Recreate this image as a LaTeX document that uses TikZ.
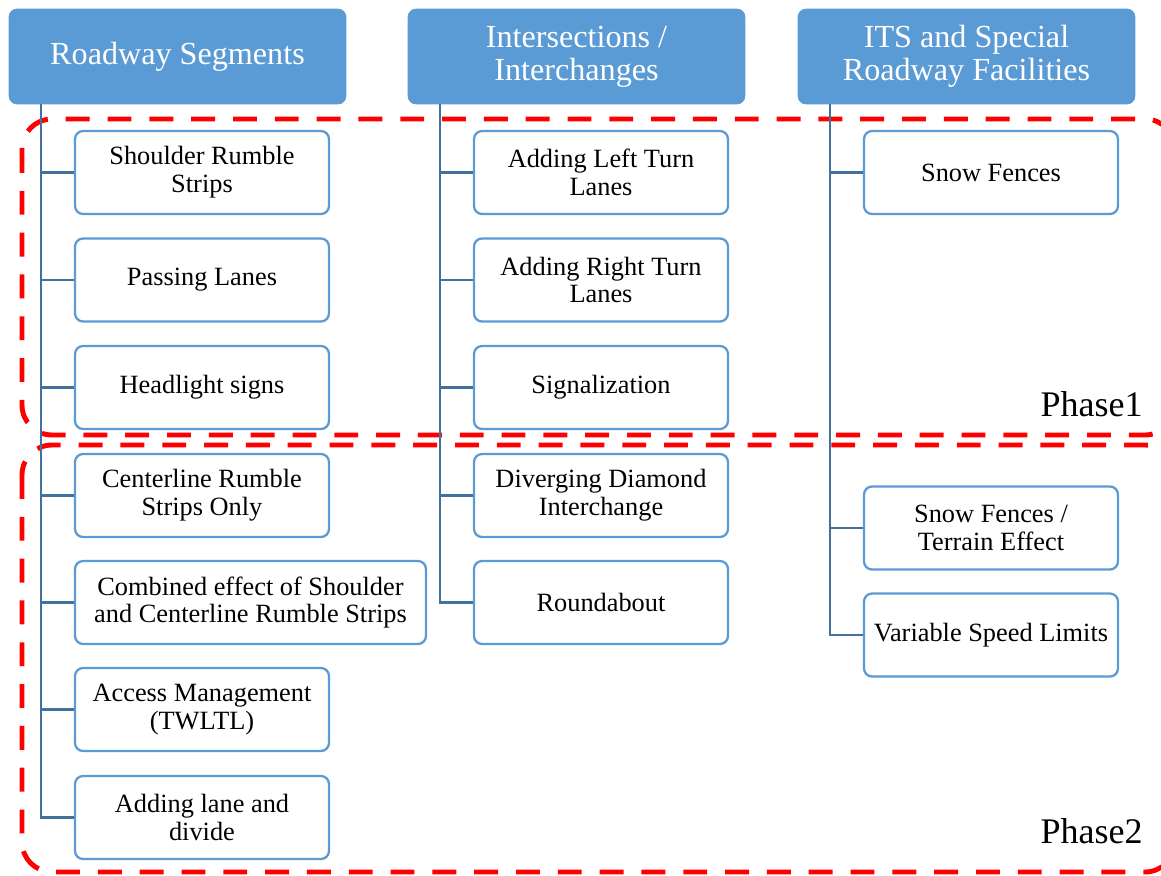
\documentclass[tikz,border=0pt]{standalone}
\usepackage{fontspec}
\setmainfont{Liberation Serif}
\definecolor{headblue}{RGB}{91,155,213}
\definecolor{trunkblue}{RGB}{65,113,156}
\tikzset{
  head/.style={draw=headblue, fill=headblue, rounded corners=0.16cm, text=white,
    minimum width=6.74cm, minimum height=1.9cm, align=center,
    font=\fontsize{18.3}{18.7}\selectfont},
  item/.style={draw=headblue, line width=1.3pt, fill=white, rounded corners=0.16cm,
    minimum width=5.08cm, minimum height=1.66cm, align=center,
    font=\fontsize{15}{15.9}\selectfont},
  trunk/.style={draw=trunkblue, line width=1.4pt},
  phase/.style={draw=red, line width=2.8pt, dash pattern=on 13.6pt off 10.2pt, rounded corners=0.6cm},
  phaselabel/.style={anchor=base east, inner sep=0pt, font=\fontsize{20.5}{22}\selectfont}
}
\begin{document}
\begin{tikzpicture}[x=0.02cm, y=-0.02cm]
	    \useasboundingbox (0,0) rectangle (1161,876);
	    % phase frames
	    \draw[phase] (22,119) rectangle (1175,435);
	    \draw[phase] (22,445) rectangle (1175,872);
	    \node[phaselabel] (P1) at (1143,416) {Phase1};
	    \node[phaselabel] (P2) at (1143,843) {Phase2};
	    % headers
	    \node[head] (RS) at (177.5,56.5) {Roadway Segments};
	    \node[head] (II) at (576.5,56.5) {Intersections /\\Interchanges};
	    \node[head] (ITS) at (966.5,56.5) {ITS and Special\\Roadway Facilities};
	    % roadway segments
	    \node[item] (rs1) at (202,172.5) {Shoulder Rumble\\Strips};
	    \node[item] (rs2) at (202,280) {Passing Lanes};
	    \node[item] (rs3) at (202,387.5) {Headlight signs};
	    \node[item] (rs4) at (202,495.5) {Centerline Rumble\\Strips Only};
	    \node[item, minimum width=7.02cm] (rs5) at (250.5,602.5) {Combined effect of Shoulder\\and Centerline Rumble Strips};
	    \node[item] (rs6) at (202,709.5) {Access Management\\(TWLTL)};
	    \node[item] (rs7) at (202,817.5) {Adding lane and\\divide};
	    % intersections
	    \node[item] (ii1) at (601,172.5) {Adding Left Turn\\Lanes};
	    \node[item] (ii2) at (601,280) {Adding Right Turn\\Lanes};
	    \node[item] (ii3) at (601,387.5) {Signalization};
	    \node[item] (ii4) at (601,495.5) {Diverging Diamond\\Interchange};
	    \node[item] (ii5) at (601,602.5) {Roundabout};
	    % its
	    \node[item] (its1) at (991,172.5) {Snow Fences};
	    \node[item] (its2) at (991,528) {Snow Fences /\\Terrain Effect};
	    \node[item] (its3) at (991,635) {Variable Speed Limits};
	    % trunks
	    \coordinate (tRS) at (41,104);
	    \coordinate (tII) at (440,104);
	    \coordinate (tITS) at (830,104);
	    \draw[trunk] (tRS) |- (rs7.west);
	    \foreach \n in {rs1,rs2,rs3,rs4,rs5,rs6}
	      \draw[trunk] (\n.west) -- (\n.west -| tRS);
	    \draw[trunk] (tII) |- (ii5.west);
	    \foreach \n in {ii1,ii2,ii3,ii4}
	      \draw[trunk] (\n.west) -- (\n.west -| tII);
	    \draw[trunk] (tITS) |- (its3.west);
	    \foreach \n in {its1,its2}
	      \draw[trunk] (\n.west) -- (\n.west -| tITS);
\end{tikzpicture}
\end{document}
